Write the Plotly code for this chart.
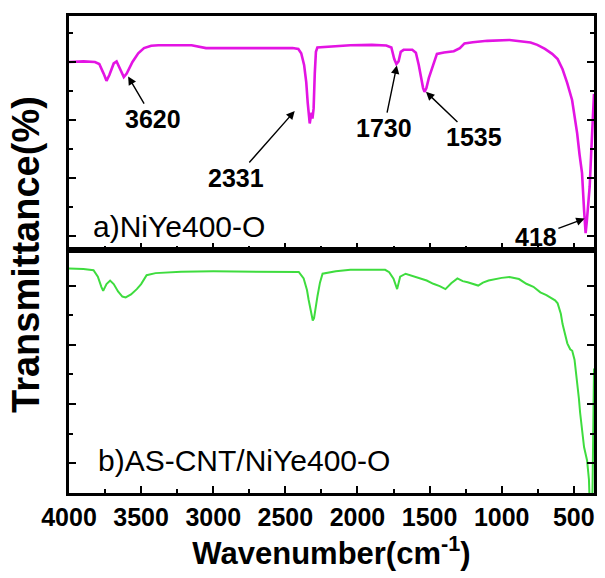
import plotly.graph_objects as go

# FTIR spectra, wavenumber in cm^-1 (descending) and transmittance in arbitrary % units
wn_a = [4000, 3900, 3820, 3790, 3760, 3740, 3720, 3690, 3670, 3650, 3620, 3600, 3560, 3520,
        3480, 3430, 3380, 3150, 3100, 3050, 2700, 2450, 2410, 2390, 2370, 2355, 2345, 2338,
        2331, 2324, 2318, 2312, 2304, 2296, 2288, 2278, 2200, 2100, 2050, 1900, 1800, 1765,
        1745, 1730, 1715, 1700, 1680, 1620, 1595, 1575, 1560, 1545, 1535, 1522, 1505, 1486,
        1465, 1449, 1400, 1332, 1290, 1258, 1200, 1100, 946, 877, 800, 753, 700, 650, 612,
        578, 546, 512, 477, 460, 443, 429, 418, 410, 400, 390, 380, 370, 362, 360]
t_a = [60.0, 60.2, 60.0, 59.3, 56.0, 53.5, 55.5, 59.5, 60.2, 58.0, 54.8, 56.0, 60.0, 63.0,
       64.8, 65.6, 65.8, 65.8, 65.3, 64.8, 64.8, 64.8, 64.5, 63.0, 59.0, 53.0, 46.0, 41.0,
       38.8, 41.0, 42.5, 40.5, 44.0, 56.0, 63.5, 65.0, 65.2, 65.6, 65.8, 65.9, 65.7, 65.0,
       61.0, 59.3, 60.2, 63.5, 64.2, 64.2, 63.2, 59.0, 54.5, 51.0, 49.7, 51.0, 54.5, 57.4,
       60.5, 62.8, 63.3, 63.7, 64.8, 66.4, 66.8, 67.3, 67.6, 67.2, 66.7, 65.9, 64.5, 62.8, 61.0,
       57.5, 52.8, 46.9, 35.5, 28.0, 21.7, 9.0, 1.0, 5.0, 11.0, 17.0, 28.0, 39.0, 47.0, 49.0]

wn_b = [4000, 3900, 3830, 3800, 3775, 3763, 3740, 3715, 3690, 3660, 3630, 3607, 3570, 3530,
        3500, 3462, 3400, 3223, 3000, 2700, 2450, 2407, 2373, 2350, 2339, 2320, 2310, 2301,
        2290, 2277, 2260, 2242, 2150, 2049, 1900, 1808, 1780, 1750, 1725, 1710, 1704, 1666,
        1620, 1570, 1520, 1474, 1430, 1390, 1350, 1307, 1270, 1236, 1200, 1163, 1130, 1091,
        1000, 946, 880, 829, 780, 732, 690, 659, 630, 612, 590, 578, 560, 545, 525, 511, 495,
        477, 465, 456, 440, 429, 415, 408, 400, 395, 390, 382, 375, 370, 366, 363, 360]
t_b = [75.8, 75.6, 75.2, 73.0, 69.5, 68.2, 70.5, 71.7, 70.5, 68.0, 66.3, 66.0, 67.0, 68.8,
       70.5, 73.5, 74.2, 74.7, 74.8, 74.8, 74.8, 74.6, 72.4, 68.5, 65.3, 61.0, 58.2, 59.0,
       63.0, 66.5, 71.0, 74.0, 74.8, 75.3, 75.3, 75.3, 74.5, 72.3, 68.8, 71.5, 73.0, 74.0,
       73.3, 72.4, 71.7, 70.6, 69.8, 68.8, 70.8, 72.4, 71.5, 71.1, 70.5, 70.0, 71.0, 71.7,
       72.6, 72.9, 72.2, 70.6, 69.6, 67.7, 66.8, 66.0, 65.0, 64.0, 60.5, 57.0, 53.5, 50.5,
       48.5, 48.0, 45.0, 38.0, 32.0, 27.0, 20.0, 15.5, 12.5, 11.0, 7.0, 4.5, -3.0, -8.0,
       -8.0, 2.0, 20.0, 36.0, 42.0]

label_a = "a)NiYe400-O"
label_b = "b)AS-CNT/NiYe400-O"

# peak labels: (text, text centre x, text centre y, arrow tip x, tip y)
peaks = [
    ("3620", 3416, 40.3, 3590, 55.0),
    ("2331", 2845, 20.0, 2435, 43.1),
    ("1730", 1817, 37.2, 1727, 58.8),
    ("1535", 1194, 34.0, 1525, 49.7),
    ("418", 763, -0.3, 425, 6.0),
]

x_ticks = [4000, 3500, 3000, 2500, 2000, 1500, 1000, 500]
x_minor = [3750, 3250, 2750, 2250, 1750, 1250, 750]

MAGENTA = "#E314E3"
GREEN = "#3EDC3E"
FONT = "Liberation Sans, Arial, sans-serif"

fig = go.Figure()
fig.add_trace(go.Scatter(x=wn_a, y=t_a, mode="lines", line=dict(color=MAGENTA, width=2.6),
                         xaxis="x2", yaxis="y2", showlegend=False))
fig.add_trace(go.Scatter(x=wn_b, y=t_b, mode="lines", line=dict(color=GREEN, width=2.0),
                         xaxis="x", yaxis="y", showlegend=False))

common_x = dict(range=[4000, 360], tickmode="array", tickvals=x_ticks,
                ticks="inside", ticklen=7, tickwidth=2, tickcolor="black",
                minor=dict(tickmode="array", tickvals=x_minor,
                           ticks="inside", ticklen=4, tickwidth=2, tickcolor="black"),
                showline=True, linecolor="black", linewidth=2.8, mirror=True,
                showgrid=False, zeroline=False)

common_y = dict(ticks="inside", ticklen=7, tickwidth=2, tickcolor="black",
                showline=True, linecolor="black", linewidth=2.8, mirror="ticks",
                showgrid=False, zeroline=False, showticklabels=False)

fig.update_layout(
    width=605, height=578,
    margin=dict(l=69, r=8, t=16, b=85),
    paper_bgcolor="white", plot_bgcolor="white",
    font=dict(family=FONT, color="black"),
    xaxis=dict(**common_x, anchor="y", domain=[0, 1],
               tickfont=dict(family=FONT, size=25, weight="bold"),
               title=dict(text="Wavenumber(cm<sup>-1</sup>)",
                          font=dict(family=FONT, size=31, weight="bold"), standoff=6)),
    xaxis2=dict(**common_x, anchor="y2", matches="x", showticklabels=False),
    yaxis=dict(**common_y, domain=[0, 0.5094], range=[0, 82],
               tickmode="array", tickvals=[10, 30, 50, 70],
               minor=dict(tickmode="array", tickvals=[20, 40, 60], ticks="inside",
                          ticklen=4, tickwidth=2, tickcolor="black")),
    yaxis2=dict(**common_y, domain=[0.5094, 1], range=[-4.83, 75.86],
                tickmode="array", tickvals=[0, 20, 40, 60],
                minor=dict(tickmode="array", tickvals=[10, 30, 50, 70], ticks="inside",
                           ticklen=4, tickwidth=2, tickcolor="black")),
)

annotations = [
    dict(text="Transmittance(%)", xref="paper", yref="paper", x=-0.083, y=0.5,
         textangle=-90, showarrow=False, xanchor="center", yanchor="middle",
         font=dict(family=FONT, size=38, weight="bold")),
    dict(text=label_a, xref="x2", yref="y2", x=3850, y=3.4, showarrow=False,
         xanchor="left", yanchor="middle", font=dict(family=FONT, size=30)),
    dict(text=label_b, xref="x", yref="y", x=3812, y=10.8, showarrow=False,
         xanchor="left", yanchor="middle", font=dict(family=FONT, size=30)),
]
# each peak label carries its own arrow, running from the text to the band
for txt, tx, ty, px, py in peaks:
    annotations.append(dict(text=txt, xref="x2", yref="y2", x=px, y=py,
                            axref="x2", ayref="y2", ax=tx, ay=ty, showarrow=True,
                            arrowhead=2, arrowsize=1.2, arrowwidth=1.4, arrowcolor="black",
                            standoff=0, startstandoff=0,
                            font=dict(family=FONT, size=25, weight="bold")))
fig.update_layout(annotations=annotations)

fig.write_html("out.html")
